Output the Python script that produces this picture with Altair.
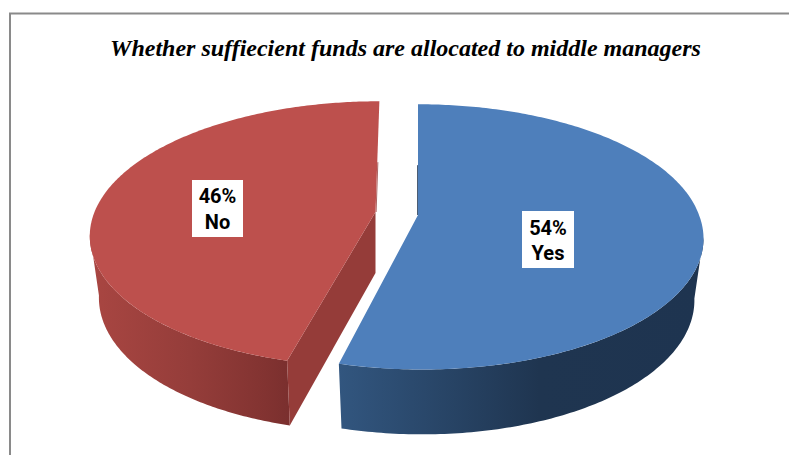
import numpy as np
import pandas as pd
import altair as alt

# Survey answers and their slice colours
labels = ["Yes", "No"]
shares = [54, 46]
top_colors = ["#4e7fbb", "#bd504d"]
inner_wall_colors = ["#1f3550", "#953c39"]
title_text = "Whether suffiecient funds are allocated to middle managers"

# Oblique camera used for the tilted pie: plane scale and perspective strength
A, B, K = 281.0, 129.0, 0.165
DEPTH, X_SHRINK, Y_GROW = 61.0, 0.968, 1.025
# Exploded centre and shear for each slice
centres = {"Yes": (418.0, 215.0), "No": (375.5, 212.0)}
shear = {"Yes": (0.0, 0.027), "No": (-0.035, -0.035)}


def project(label, t, level=0.0):
    """Map the angle t (clockwise from 12 o'clock) on a disc to screen pixels."""
    cx, cy = centres[label]
    u, v = np.sin(t), np.cos(t)
    w = 1 + K * v
    dy = -B * v / w
    up, down = shear[label]
    skew = np.where(dy < 0, up, down) * dy
    x = cx + (1 - level * (1 - X_SHRINK)) * A * u / w + skew
    y = cy + level * DEPTH + (1 + level * (Y_GROW - 1)) * dy
    return x, y


def centre_at(label, level=0.0):
    cx, cy = centres[label]
    return cx, cy + level * DEPTH


def frame(xs, ys):
    xs, ys = np.asarray(xs, dtype=float), np.asarray(ys, dtype=float)
    return pd.DataFrame({"px": xs, "py": ys, "i": np.arange(len(xs))})


x_scale = alt.Scale(domain=[0, 789], range=[0, 789], nice=False, zero=False)
y_scale = alt.Scale(domain=[0, 455], range=[0, 455], nice=False, zero=False)


def polygon(df, fill):
    return alt.Chart(df).mark_line(fill=fill, strokeWidth=0, interpolate="linear").encode(
        x=alt.X("px:Q", scale=x_scale, axis=None),
        y=alt.Y("py:Q", scale=y_scale, axis=None),
        order=alt.Order("i:Q"),
    )


def gradient(stops):
    return alt.LinearGradient(
        gradient="linear", x1=0, x2=1, y1=0, y2=0,
        stops=[alt.GradientStop(offset=o, color=c) for o, c in stops],
    )


# Slice angles follow the percentages
bounds = np.cumsum([0] + shares) / sum(shares) * 2 * np.pi
spans = {lab: (bounds[i], bounds[i + 1]) for i, lab in enumerate(labels)}
tangent = np.arccos(-K)

wall_stops = {
    "Yes": [(0, "#32567f"), (0.2, "#2b4a6e"), (0.55, "#1f3550"), (1, "#1e3450")],
    "No": [(0, "#a94642"), (0.5, "#953d3a"), (0.88, "#823331"), (1, "#7a2f2e")],
}
wall_spans = {
    "Yes": (tangent, spans["Yes"][1]),
    "No": (spans["No"][0], 2 * np.pi - tangent),
}

layers = []
for idx in [1, 0]:
    lab = labels[idx]
    # Curved outer wall
    ts = np.linspace(*wall_spans[lab], 120)
    x0, y0 = project(lab, ts, 0.0)
    x1, y1 = project(lab, ts[::-1], 1.0)
    layers.append(polygon(frame(np.r_[x0, x1], np.r_[y0, y1]), gradient(wall_stops[lab])))

    start, end = spans[lab]
    ax, ay = centre_at(lab, 0.0)
    if lab == "No":
        # Flat cut wall facing the viewer
        ax1, ay1 = centre_at(lab, 1.0)
        nx0, ny0 = project(lab, np.array([start]), 0.0)
        nx1, ny1 = project(lab, np.array([start]), 1.0)
        layers.append(polygon(
            frame([ax, nx0[0], nx1[0], ax1], [ay, ny0[0], ny1[0], ay1]),
            inner_wall_colors[idx],
        ))

    # Sliver of the far cut wall showing along the gap
    far = start if lab == "Yes" else end
    fx, fy = project(lab, np.array([far]), 0.0)
    mid_x, mid_y = ax + 0.45 * (fx[0] - ax), ay + 0.45 * (fy[0] - ay)
    sliver = [mid_x - 0.5, ax - 0.5] if lab == "Yes" else [mid_x + 0.6, ax + 0.6]
    layers.append(
        alt.Chart(frame(sliver, [mid_y, ay]))
        .mark_line(color=inner_wall_colors[idx], strokeWidth=1.0, opacity=0.8)
        .encode(
            x=alt.X("px:Q", scale=x_scale, axis=None),
            y=alt.Y("py:Q", scale=y_scale, axis=None),
            order=alt.Order("i:Q"),
        )
    )

    # Top face of the slice
    ts = np.linspace(start, end, 240)
    tx, ty = project(lab, ts, 0.0)
    layers.append(polygon(frame(np.r_[ax, tx], np.r_[ay, ty]), top_colors[idx]))

# Chart frame: only the left and top edges fall inside the page
edge = alt.Chart(pd.DataFrame({"k": [0]})).mark_rule(color="#8a8a8a", strokeWidth=2)
layers.append(edge.encode(x=alt.value(10), y=alt.value(13.5), y2=alt.value(455)))
layers.append(edge.encode(x=alt.value(9), x2=alt.value(789), y=alt.value(13.5)))


def text_mark(text, px, py, size, **style):
    return alt.Chart(pd.DataFrame({"t": [text]})).mark_text(
        fontSize=size, align="center", baseline="alphabetic", color="black", **style
    ).encode(x=alt.value(px), y=alt.value(py), text="t:N")


layers.append(text_mark(title_text, 405.5, 56, 24, font="Liberation Serif",
                        fontWeight="bold", fontStyle="italic"))

# White value tags on the top faces
tags = [
    ("No", 46, 192, 243, 180, 237, 217.5, 203, 229),
    ("Yes", 54, 522, 574, 211, 268, 548, 235, 260),
]
for name, pct, left, right, top, bottom, mid, base1, base2 in tags:
    layers.append(alt.Chart(pd.DataFrame({"k": [name]})).mark_rect(color="white").encode(
        x=alt.value(left), x2=alt.value(right), y=alt.value(top), y2=alt.value(bottom)))
    for line, base in [(f"{pct}%", base1), (name, base2)]:
        layers.append(text_mark(line, mid, base, 20, font="Roboto", fontWeight="bold"))

chart = alt.layer(*layers).properties(
    width=789, height=455, padding=0,
    autosize=alt.AutoSizeParams(type="none"),
    background="white",
).configure_view(strokeWidth=0)

chart.save("out.html", embed_options={"renderer": "svg", "actions": False})
